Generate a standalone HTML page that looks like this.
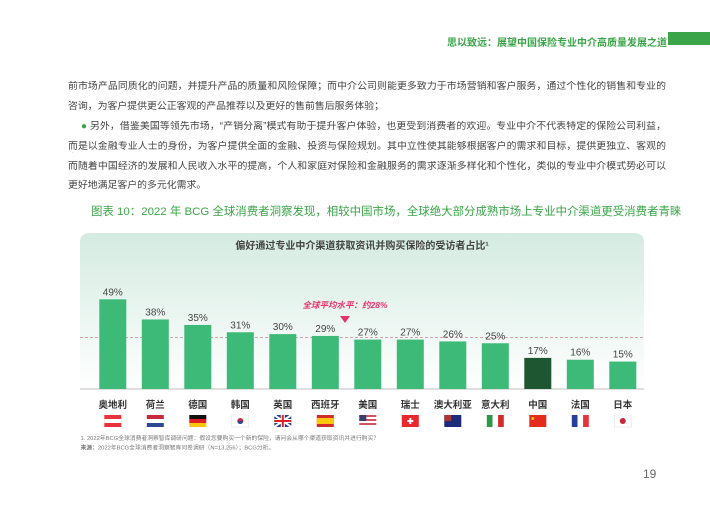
<!DOCTYPE html>
<html><head><meta charset="utf-8"><style>
body{margin:0;width:710px;height:505px;background:#fff;position:relative;overflow:hidden;font-family:"Liberation Sans","Noto Sans CJK SC",sans-serif}
.a{position:absolute;white-space:nowrap}
.t{font-size:9.9px;color:#444;left:68px;width:598px;text-align:justify;text-align-last:justify;white-space:normal;line-height:12px;height:12px;overflow:hidden}
</style></head><body>
<div class="a" style="left:447px;top:34px;font-size:10px;color:#3aa548;font-weight:bold">思以致远：展望中国保险专业中介高质量发展之道</div>
<div class="a" style="left:668px;top:32px;width:42px;height:13px;background:#3aa548"></div>
<div class="a t" style="top:81px">前市场产品同质化的问题，并提升产品的质量和风险保障；而中介公司则能更多致力于市场营销和客户服务，通过个性化的销售和专业的</div>
<div class="a t" style="top:101px;width:auto;text-align-last:auto">咨询，为客户提供更公正客观的产品推荐以及更好的售前售后服务体验；</div>
<div class="a t" style="top:121px;left:81px;width:585px"><span style="color:#3aa548">●</span> 另外，借鉴美国等领先市场，“产销分离”模式有助于提升客户体验，也更受到消费者的欢迎。专业中介不代表特定的保险公司利益，</div>
<div class="a t" style="top:141px">而是以金融专业人士的身份，为客户提供全面的金融、投资与保险规划。其中立性使其能够根据客户的需求和目标，提供更独立、客观的咨询。</div>
<div class="a t" style="top:161px">而随着中国经济的发展和人民收入水平的提高，个人和家庭对保险和金融服务的需求逐渐多样化和个性化，类似的专业中介模式势必可以</div>
<div class="a t" style="top:180px;width:auto;text-align-last:auto">更好地满足客户的多元化需求。</div>
<div class="a" style="left:91px;top:205px;font-size:11.45px;line-height:15px;color:#3aa548">图表 10：2022 年 BCG 全球消费者洞察发现，相较中国市场，全球绝大部分成熟市场上专业中介渠道更受消费者青睐</div>
<svg class="a" style="left:0;top:0" width="710" height="505">
<defs><linearGradient id="g" x1="0" y1="0" x2="0" y2="1"><stop offset="0" stop-color="#d4ebe1"/><stop offset="1" stop-color="#ffffff"/></linearGradient></defs>
<path d="M80,390 L80,242 Q80,233 90,233 L634,233 Q644,233 644,242 L644,390 Z" fill="url(#g)"/>
<text x="362" y="249" font-size="10" fill="#444" text-anchor="middle" font-weight="bold">偏好通过专业中介渠道获取资讯并购买保险的受访者占比¹</text>
<line x1="80" y1="337.5" x2="644" y2="337.5" stroke="#c9878f" stroke-width="0.8" stroke-dasharray="3,2"/>
<line x1="80" y1="389" x2="644" y2="389" stroke="#aaa" stroke-width="0.8"/>
<text x="345" y="308" font-size="8.5" fill="#e8336f" font-weight="bold" font-style="italic" text-anchor="middle">全球平均水平：约28%</text>
<path d="M340,316 L350,316 L345,323 Z" fill="#e8336f"/>
<g id="bars"></g>
<text x="80.5" y="440" font-size="5.8" fill="#777">1. 2022年BCG全球消费者洞察智库调研问题：假设您要购买一个新的保险，请问会从哪个渠道获取资讯并进行购买？</text>
<text x="80.5" y="449.5" font-size="5.8" fill="#777"><tspan font-weight="bold">来源：</tspan>2022年BCG全球消费者洞察智库问卷调研（N=13,256）；BCG分析。</text>
<text x="643" y="478" font-size="12" fill="#666">19</text>
</svg>
<script>
var v=[49,38,35,31,30,29,27,27,26,25,17,16,15],n=["奥地利","荷兰","德国","韩国","英国","西班牙","美国","瑞士","澳大利亚","意大利","中国","法国","日本"];
var s="";
for(var i=0;i<13;i++){var x=99.3+i*42.5,h=v[i]*1.83,c=x+13.5,fx=c-8.5,fy=415;
s+='<rect x="'+x+'" y="'+(389-h)+'" width="27" height="'+h+'" fill="'+(i==10?'#1e5631':'#3dba78')+'"/>';
s+='<text x="'+c+'" y="'+(385-h)+'" font-size="10" fill="#444" text-anchor="middle">'+v[i]+'%</text>';
s+='<text x="'+c+'" y="408" font-size="9.5" fill="#333" font-weight="bold" text-anchor="middle">'+n[i]+'</text>';
var f='';
switch(i){
case 0:f='<rect x="'+fx+'" y="'+fy+'" width="17" height="12" fill="#e8323c"/><rect x="'+fx+'" y="'+(fy+4)+'" width="17" height="4" fill="#fff"/>';break;
case 1:f='<rect x="'+fx+'" y="'+fy+'" width="17" height="4" fill="#c8283a"/><rect x="'+fx+'" y="'+(fy+4)+'" width="17" height="4" fill="#fff"/><rect x="'+fx+'" y="'+(fy+8)+'" width="17" height="4" fill="#2a4a96"/>';break;
case 2:f='<rect x="'+fx+'" y="'+fy+'" width="17" height="4" fill="#111"/><rect x="'+fx+'" y="'+(fy+4)+'" width="17" height="4" fill="#dd1f26"/><rect x="'+fx+'" y="'+(fy+8)+'" width="17" height="4" fill="#fcc60a"/>';break;
case 3:f='<rect x="'+fx+'" y="'+fy+'" width="17" height="12" fill="#fff" stroke="#ddd" stroke-width="0.5"/><circle cx="'+c+'" cy="'+(fy+6)+'" r="3" fill="#c9283a"/><path d="M'+(c-3)+','+(fy+6)+' a3,3 0 0,0 6,0z" fill="#2a4a96"/>';break;
case 4:f='<rect x="'+fx+'" y="'+fy+'" width="17" height="12" fill="#27408b"/><path d="M'+fx+','+fy+'L'+(fx+17)+','+(fy+12)+'M'+(fx+17)+','+fy+'L'+fx+','+(fy+12)+'" stroke="#fff" stroke-width="2"/><rect x="'+(c-2)+'" y="'+fy+'" width="4" height="12" fill="#fff"/><rect x="'+fx+'" y="'+(fy+4)+'" width="17" height="4" fill="#fff"/><rect x="'+(c-1)+'" y="'+fy+'" width="2" height="12" fill="#d22"/><rect x="'+fx+'" y="'+(fy+5)+'" width="17" height="2" fill="#d22"/>';break;
case 5:f='<rect x="'+fx+'" y="'+fy+'" width="17" height="12" fill="#d22b2b"/><rect x="'+fx+'" y="'+(fy+3)+'" width="17" height="6" fill="#fcc60a"/>';break;
case 6:f='<rect x="'+fx+'" y="'+fy+'" width="17" height="12" fill="#fff"/>';for(var k=0;k<6;k+=2)f+='<rect x="'+fx+'" y="'+(fy+k*2)+'" width="17" height="2" fill="#c9283a" opacity=".8"/>';f+='<rect x="'+fx+'" y="'+fy+'" width="7" height="6" fill="#3c3b6e"/>';break;
case 7:f='<rect x="'+fx+'" y="'+fy+'" width="17" height="12" fill="#e8282e"/><rect x="'+(c-1)+'" y="'+(fy+3)+'" width="2" height="6" fill="#fff"/><rect x="'+(c-3)+'" y="'+(fy+5)+'" width="6" height="2" fill="#fff"/>';break;
case 8:f='<rect x="'+fx+'" y="'+fy+'" width="17" height="12" fill="#1c2b7a"/><rect x="'+fx+'" y="'+fy+'" width="7" height="6" fill="#a33"/>';break;
case 9:f='<rect x="'+fx+'" y="'+fy+'" width="5.7" height="12" fill="#2a9a48"/><rect x="'+(fx+5.7)+'" y="'+fy+'" width="5.6" height="12" fill="#fff"/><rect x="'+(fx+11.3)+'" y="'+fy+'" width="5.7" height="12" fill="#d22b2b"/>';break;
case 10:f='<rect x="'+fx+'" y="'+fy+'" width="17" height="12" fill="#e52a1e"/><circle cx="'+(fx+3.5)+'" cy="'+(fy+3.5)+'" r="1.5" fill="#fcc60a"/>';break;
case 11:f='<rect x="'+fx+'" y="'+fy+'" width="5.7" height="12" fill="#24409a"/><rect x="'+(fx+5.7)+'" y="'+fy+'" width="5.6" height="12" fill="#fff"/><rect x="'+(fx+11.3)+'" y="'+fy+'" width="5.7" height="12" fill="#e8323c"/>';break;
case 12:f='<rect x="'+fx+'" y="'+fy+'" width="17" height="12" fill="#fff" stroke="#ddd" stroke-width="0.5"/><circle cx="'+c+'" cy="'+(fy+6)+'" r="3" fill="#c9283a"/>';break;}
s+=f;}
document.getElementById("bars").innerHTML=s;
</script>
</body></html>
